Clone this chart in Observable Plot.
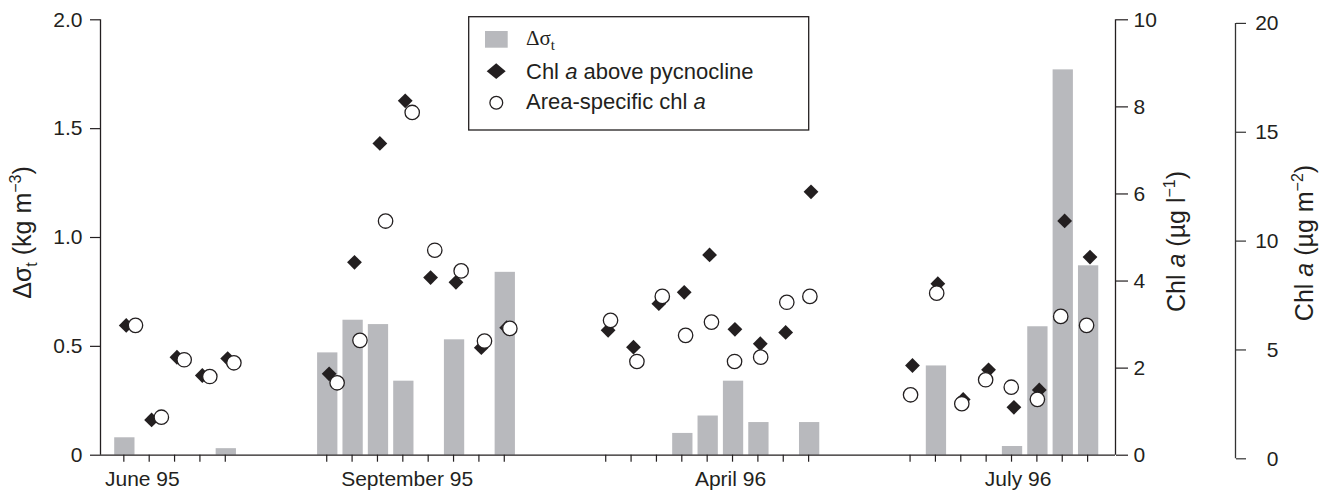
<!DOCTYPE html>
<html><head><meta charset="utf-8">
<script src="https://cdn.jsdelivr.net/npm/d3@7"></script>
<script src="https://cdn.jsdelivr.net/npm/@observablehq/plot@0.6"></script>
<style>body{margin:0;background:#fff;}</style>
</head><body><div id="chart"></div>
<script>
// Sample positions (tick positions on the compressed time axis)
const sampleX = [1,2,3,4,5, 9,10,11,12,13,14,15,16, 20,21,22,23,24,25,26,27,28, 32,33,34,35,36,37,38,39];
// Δσt (kg m-3), left axis
const deltaSigma = [0.08,0,0,0,0.03, 0.47,0.62,0.60,0.34,0,0.53,0,0.84, 0,0,0,0.10,0.18,0.34,0.15,0,0.15, 0,0.41,0,0,0.04,0.59,1.77,0.87];
// Chl a above pycnocline (µg l-1), right axis 1
const chlAbove = [2.98,0.81,2.25,1.83,2.22, 1.87,4.43,7.16,8.14,4.08,3.97,2.47,2.93, 2.87,2.48,3.48,3.74,4.60,2.89,2.56,2.82,6.05, 2.06,3.94,1.28,1.96,1.10,1.50,5.38,4.55];
// Area-specific chl a (µg m-2), right axis 2, plotted slightly offset in x
const areaX = [1.46,2.48,3.38,4.39,5.34, 9.41,10.31,11.32,12.37,13.26,14.30,15.22,16.22, 20.19,21.23,22.23,23.15,24.17,25.08,26.11,27.14,28.05, 32.02,33.05,34.04,34.98,35.99,37.02,37.94,38.96];
const areaChl = [6.13,1.91,4.55,3.78,4.41, 3.49,5.44,10.92,15.91,9.58,8.63,5.41,5.99, 6.36,4.47,7.46,5.67,6.28,4.47,4.67,7.19,7.46, 2.94,7.61,2.53,3.63,3.29,2.73,6.54,6.13];
// Axis labels
const monthLabels = ["June 95","September 95","April 96","July 96"];
const monthPos = [1.73, 12.17, 24.92, 36.26];
const leftTicks = [0, 0.5, 1.0, 1.5, 2.0];
const chlTicks = [0, 2, 4, 6, 8, 10];
const areaTicks = [0, 5, 10, 15, 20];

const ink = "#231f20";
const barColor = "#b8b9bd";
const font = "'Liberation Sans', Arial, Helvetica, sans-serif";
const xDomain = [0.08, 40.1];

const bars = sampleX.map((x,i) => ({x, v: deltaSigma[i]})).filter(d => d.v > 0);
const diamonds = sampleX.map((x,i) => ({x, v: chlAbove[i] / 5}));
const circles = areaX.map((x,i) => ({x, v: areaChl[i] / 10}));

const plot = Plot.plot({
  width: 1332, height: 497,
  marginLeft: 100, marginRight: 217, marginTop: 19.3, marginBottom: 42.3,
  x: {domain: xDomain, axis: null},
  y: {domain: [0, 2], axis: null},
  style: {fontFamily: font, fontSize: "21px", color: ink, background: "#fff", overflow: "visible"},
  marks: [
    Plot.rectY(bars, {x1: d => d.x - 0.36, x2: d => d.x + 0.44, y: "v", fill: barColor}),
    Plot.ruleY([0], {stroke: ink, strokeWidth: 1.3}),
    Plot.ruleX([xDomain[0]], {stroke: ink, strokeWidth: 1.3}),
    Plot.ruleX([xDomain[1]], {stroke: ink, strokeWidth: 1.3}),
    Plot.ruleX([xDomain[1]], {stroke: "#333", strokeWidth: 1.3, dx: 120, dy: 3.6}),
    Plot.axisX({ticks: sampleX, tickSize: 7, tickFormat: () => "", label: null, stroke: ink, strokeWidth: 1.2}),
    Plot.text(monthLabels, {x: (d,i) => monthPos[i], text: d => d, frameAnchor: "bottom", dy: 30.6, fontSize: 21, fill: ink}),
    Plot.axisY({anchor: "left", ticks: leftTicks, tickFormat: d => d === 0 ? "0" : d.toFixed(1), label: null, tickSize: 10, tickPadding: 8, fontSize: 21, stroke: ink, fill: ink, strokeWidth: 1.2}),
    Plot.axisY({anchor: "right", ticks: chlTicks.map(v => v / 5), tickFormat: d => String(Math.round(d * 5)), label: null, tickSize: 12, tickPadding: 6, fontSize: 21, stroke: ink, fill: ink, strokeWidth: 1.2}),
    Plot.axisY({anchor: "right", ticks: areaTicks.map(v => v / 10), tickFormat: d => String(Math.round(d * 10)), label: null, tickSize: 10, tickPadding: 33, textAnchor: "end", dx: 120, dy: 3.6, fontSize: 21, stroke: "#333", fill: ink, strokeWidth: 1.2}),
    Plot.dot(diamonds, {x: "x", y: "v", symbol: "diamond2", r: 6.67, fill: ink, stroke: "none", dx: 2.4}),
    Plot.dot(circles, {x: "x", y: "v", r: 7.2, fill: "white", stroke: ink, strokeWidth: 1.3, dy: 3.6})
  ]
});
document.getElementById("chart").appendChild(plot);

// Legend and axis titles
const svg = d3.select(plot);
const g = svg.append("g").attr("font-family", font).attr("fill", ink).attr("text-anchor", "start");
g.append("rect").attr("x", 468.7).attr("y", 16.7).attr("width", 340).attr("height", 113.3)
  .attr("fill", "white").attr("stroke", ink).attr("stroke-width", 1.3);
g.append("rect").attr("x", 485).attr("y", 31).attr("width", 22.7).attr("height", 16.7).attr("fill", barColor);
const t1 = g.append("text").attr("x", 526).attr("y", 45).attr("font-size", 21).attr("text-anchor", "start")
  .attr("font-family", "'Liberation Serif', 'Times New Roman', serif");
t1.append("tspan").text("Δσ");
t1.append("tspan").attr("dy", 5).attr("font-size", 15).text("t");
g.append("path").attr("d", "M496.2,63.3L505.7,71.2L496.2,79L486.7,71.2Z").attr("fill", ink);
const t2 = g.append("text").attr("x", 526).attr("y", 78.5).attr("font-size", 22).attr("text-anchor", "start");
t2.append("tspan").text("Chl ");
t2.append("tspan").attr("font-style", "italic").text("a");
t2.append("tspan").text(" above pycnocline");
g.append("circle").attr("cx", 496.3).attr("cy", 102.7).attr("r", 6.4).attr("fill", "white").attr("stroke", ink).attr("stroke-width", 1.3);
const t3 = g.append("text").attr("x", 526).attr("y", 109.3).attr("font-size", 22).attr("text-anchor", "start");
t3.append("tspan").text("Area-specific chl ");
t3.append("tspan").attr("font-style", "italic").text("a");

function title(x, y, parts) {
  const t = g.append("text").attr("transform", `translate(${x},${y}) rotate(-90)`)
    .attr("text-anchor", "middle").attr("font-size", 25);
  for (const p of parts) {
    const s = t.append("tspan").text(p.t);
    if (p.i) s.attr("font-style", "italic");
    if (p.sup) s.attr("font-size", 16).attr("dy", -10);
    if (p.sub) s.attr("font-size", 16).attr("dy", 6);
    if (p.back) s.attr("dy", p.back);
  }
}
title(31, 232.5, [{t: "Δσ"}, {t: "t", sub: true}, {t: " (kg m", back: -6}, {t: "−3", sup: true}, {t: ")", back: 10}]);
title(1185, 241.5, [{t: "Chl "}, {t: "a", i: true}, {t: " (µg l"}, {t: "−1", sup: true}, {t: ")", back: 10}]);
title(1313.3, 243, [{t: "Chl "}, {t: "a", i: true}, {t: " (µg m"}, {t: "−2", sup: true}, {t: ")", back: 10}]);
</script>
</body></html>
